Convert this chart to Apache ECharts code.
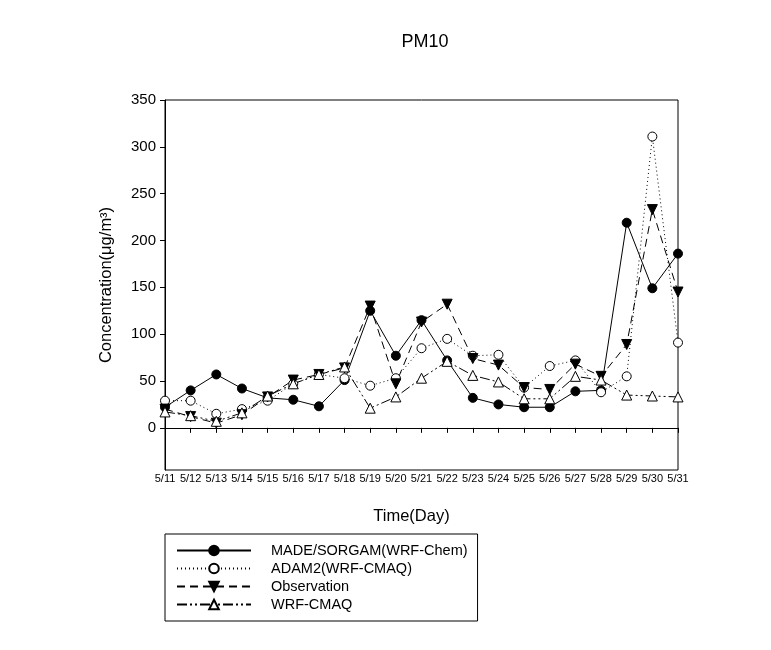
<!DOCTYPE html>
<html>
<head>
<meta charset="utf-8">
<script src="https://cdn.jsdelivr.net/npm/echarts@6/dist/echarts.min.js"></script>
<style>
    html, body {margin: 0; padding: 0; background: #fff;}
    #chart {width: 771px; height: 650px;}
</style>
</head>
<body>
<div id="chart"></div>
<script>
// 日期 (x 轴)
const days = ['5/11', '5/12', '5/13', '5/14', '5/15', '5/16', '5/17', '5/18', '5/19', '5/20', '5/21',
    '5/22', '5/23', '5/24', '5/25', '5/26', '5/27', '5/28', '5/29', '5/30', '5/31']

// 各序列浓度值
const madeSorgam = [22, 40, 57, 42, 32, 30, 23, 51, 125, 77, 115, 72, 32, 25, 22, 22, 39, 40, 219, 149, 186]
const adam2 = [29, 29, 15, 20, 29, 47, 57, 53, 45, 53, 85, 95, 77, 78, 43, 66, 72, 38, 55, 311, 91]
const observation = [20, 12, 5, 14, 33, 51, 57, 64, 130, 47, 113, 132, 74, 67, 43, 41, 68, 55, 89, 233, 145]
const wrfCmaq = [17, 13, 7, 16, 34, 47, 57, 65, 21, 33, 53, 71, 56, 49, 31, 31, 55, 51, 35, 34, 33]

// y 轴刻度
const yTicks = [0, 50, 100, 150, 200, 250, 300, 350]

const font = 'Liberation Sans, Arial, sans-serif'

const makeSeries = (name, data, symbol, filled, lineType, rotate) => {
    return {
        name: name,
        type: 'line',
        data: data,
        symbol: symbol,
        symbolSize: symbol === 'circle' ? 9 : 10,
        symbolRotate: rotate || 0,
        showAllSymbol: true,
        lineStyle: {color: '#000', width: 1, type: lineType},
        itemStyle: {color: filled ? '#000' : '#fff', borderColor: '#000', borderWidth: 1},
        emphasis: {disabled: true},
        animation: false,
    }
}

const chart = echarts.init(document.getElementById('chart'))

const option = {
    backgroundColor: '#fff',
    title: {
        text: 'PM10',
        left: 420,
        top: 28,
        textAlign: 'center',
        textStyle: {fontFamily: font, fontSize: 18, fontWeight: 'normal', color: '#000'},
    },
    grid: {
        left: 165,
        right: 93,
        top: 100,
        bottom: 180,
        show: true,
        borderColor: '#000',
        borderWidth: 1,
    },
    legend: {
        orient: 'vertical',
        left: 165,
        top: 534,
        padding: [9, 10, 9, 11],
        itemWidth: 74,
        itemHeight: 12,
        itemGap: 3,
        borderColor: '#000',
        borderWidth: 1,
        textStyle: {fontFamily: font, fontSize: 14.5, lineHeight: 14, color: '#000', padding: [0, 0, 0, 15]},
        data: ['MADE/SORGAM(WRF-Chem)', 'ADAM2(WRF-CMAQ)', 'Observation', 'WRF-CMAQ'],
    },
    xAxis: {
        type: 'category',
        data: days,
        boundaryGap: false,
        name: 'Time(Day)',
        nameLocation: 'middle',
        nameGap: 38,
        nameTextStyle: {fontFamily: font, fontSize: 16.5, color: '#000', padding: [0, 20, 0, 0]},
        axisLine: {lineStyle: {color: '#000', width: 1}},
        axisTick: {show: true, length: 5, lineStyle: {color: '#000'}, interval: 0},
        axisLabel: {interval: 0, fontFamily: font, fontSize: 11, color: '#000', margin: 3},
        splitLine: {show: false},
    },
    yAxis: {
        type: 'value',
        min: -45,
        max: 350,
        name: 'Concentration(μg/m³)',
        nameLocation: 'middle',
        nameGap: 50,
        nameTextStyle: {fontFamily: font, fontSize: 16.5, color: '#000'},
        axisLine: {show: true, lineStyle: {color: '#000', width: 1}},
        axisTick: {show: true, length: 5, lineStyle: {color: '#000'}, customValues: yTicks},
        axisLabel: {fontFamily: font, fontSize: 15, color: '#000', margin: 9, customValues: yTicks},
        splitLine: {show: false},
    },
    series: [
        makeSeries('MADE/SORGAM(WRF-Chem)', madeSorgam, 'circle', true, 'solid'),
        makeSeries('ADAM2(WRF-CMAQ)', adam2, 'circle', false, [1, 3]),
        makeSeries('Observation', observation, 'triangle', true, [8, 5], 180),
        makeSeries('WRF-CMAQ', wrfCmaq, 'triangle', false, [10, 3, 2, 3, 2, 3]),
    ],
}
chart.setOption(option)
</script>
</body>
</html>
